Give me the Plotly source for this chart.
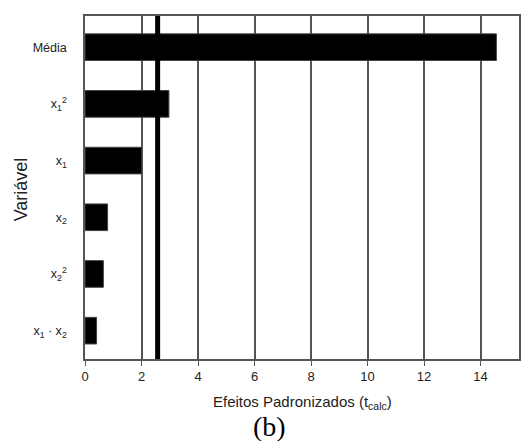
import plotly.graph_objects as go

# Data (bottom to top)
variables = ["x<sub>1</sub> · x<sub>2</sub>", "x<sub>2</sub><sup>2</sup>", "x<sub>2</sub>",
             "x<sub>1</sub>", "x<sub>1</sub><sup>2</sup>", "Média"]
effects = [0.41, 0.65, 0.80, 2.01, 2.97, 14.56]
t_crit = 2.571
x_ticks = [0, 2, 4, 6, 8, 10, 12, 14]

fig = go.Figure()
fig.add_trace(go.Bar(
    x=effects, y=variables, orientation="h",
    marker=dict(color="black", line=dict(color="#444", width=1)),
    width=0.47, showlegend=False,
))

fig.add_shape(type="line", xref="x", yref="paper", x0=t_crit, x1=t_crit, y0=0, y1=1,
              line=dict(color="black", width=5), layer="above")

fig.update_layout(
    width=522, height=441,
    margin=dict(l=85, r=1, t=16, b=82),
    plot_bgcolor="white", paper_bgcolor="white",
    font=dict(family="Liberation Sans, Arial", color="#222", size=12),
)
fig.update_xaxes(
    range=[0, 15.36], tickvals=x_ticks, ticks="outside", ticklen=5, tickcolor="#555",
    showgrid=True, gridcolor="#555", gridwidth=1.5,
    showline=True, linecolor="#555", linewidth=1.5, mirror=True,
    zeroline=False, tickfont=dict(size=13, color="#222"),
)
fig.update_yaxes(
    categoryorder="array", categoryarray=variables, range=[-0.5, 5.55],
    showgrid=False, showline=True, linecolor="#555", linewidth=1.5, mirror=True,
    ticks="", ticklabelstandoff=14, tickfont=dict(size=12.5, color="#222"),
)

fig.add_annotation(text="Variável", xref="paper", yref="paper", x=-0.148, y=0.494,
                   xanchor="center", yanchor="middle", textangle=-90, showarrow=False,
                   font=dict(size=18, color="#222"))
fig.add_annotation(text="Efeitos Padronizados (t<sub>calc</sub>)", xref="paper", yref="paper",
                   x=0.5, y=-0.128, xanchor="center", yanchor="middle", showarrow=False,
                   font=dict(size=15, color="#222"))
fig.add_annotation(text="(b)", xref="paper", yref="paper", x=0.424, y=-0.196,
                   xanchor="center", yanchor="middle", showarrow=False,
                   font=dict(size=28, family="Liberation Serif, Times New Roman", color="black"))

fig.write_html("out.html", config={"displayModeBar": False},
               post_script="document.body.style.margin='0';document.body.style.overflow='hidden';")
